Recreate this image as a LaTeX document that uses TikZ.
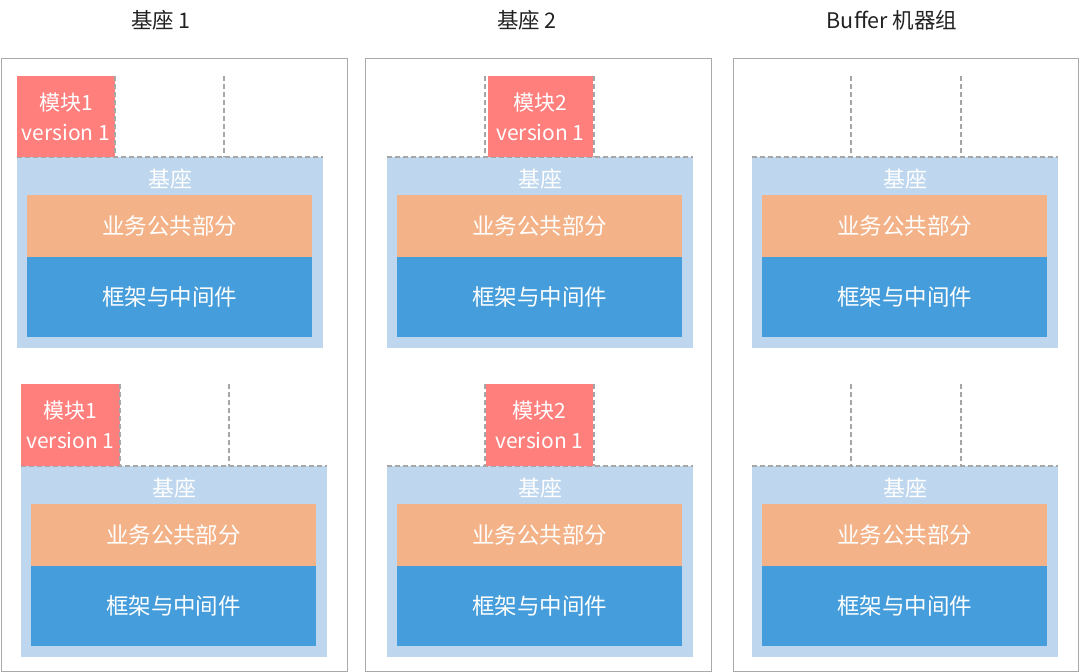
\documentclass[tikz,border=0pt]{standalone}
\usepackage{fontspec}
\setmainfont{Noto Sans CJK SC}
\usepackage{xcolor}
\usetikzlibrary{positioning,calc}
\definecolor{framegray}{HTML}{AAAAAA}
\definecolor{guidegray}{HTML}{A6A6A6}
\definecolor{titleink}{HTML}{222222}
\definecolor{modpink}{HTML}{FF7F7D}
\definecolor{basebg}{HTML}{BED7EE}
\definecolor{bizorange}{HTML}{F3B287}
\definecolor{fwblue}{HTML}{459DDB}

\begin{document}
\begin{tikzpicture}[
  x=1pt,y=-1pt,
  frame/.style={rectangle,draw=framegray,line width=1pt,inner sep=0pt,anchor=north west,minimum width=346pt,minimum height=613pt},
  title/.style={font=\fontsize{21.5}{24}\selectfont,text=titleink,inner sep=0pt},
  base/.style={rectangle,fill=basebg,inner sep=0pt,outer sep=0pt,anchor=north west,minimum width=306pt,minimum height=191pt},
  lbl/.style={font=\fontsize{22}{24}\selectfont,text=white,inner sep=0pt},
  biz/.style={rectangle,fill=bizorange,text=white,font=\fontsize{22.5}{24}\selectfont,inner sep=0pt,outer sep=0pt,anchor=north west,minimum width=285pt,minimum height=62pt},
  fw/.style={rectangle,fill=fwblue,text=white,font=\fontsize{22.5}{24}\selectfont,inner sep=0pt,outer sep=0pt,anchor=north west,minimum width=285pt,minimum height=80pt},
  mod/.style={rectangle,fill=modpink,text=white,align=center,font=\fontsize{21}{30}\selectfont,inner sep=0pt,outer sep=0pt,anchor=north west,minimum height=81pt},
  guide/.style={draw=guidegray,line width=1.1pt,dash pattern=on 5pt off 3pt}
]
\useasboundingbox (0,0) rectangle (1080,672);
% machine groups
\node[frame] (col1) at (1,58) {};
\node[frame] (col2) at (365,58) {};
\node[frame,minimum width=345pt] (col3) at (733,58) {};
\node[title] (t1) at (161,20) {基座 1};
\node[title] (t2) at (527,20) {基座 2};
\node[title] (t3) at (892,20) {Buffer 机器组};
% base stacks
\foreach \n/\x/\y in {a/17/157,b/21/466,c/387/157,d/387/466,e/752/157,f/752/466}{
  \node[base] (base\n) at (\x,\y) {};
  \node[lbl] (lbl\n) at ($(base\n.north)+(0,22)$) {基座};
  \node[biz] (biz\n) at ($(base\n.north west)+(10,38)$) {业务公共部分};
  \node[fw] (fw\n) at (biz\n.south west) {框架与中间件};
  \draw[guide] (base\n.north west) -- (base\n.north east);
}
% modules
\node[mod,minimum width=98pt] (moda) at (17,76) {模块1\\version 1};
\node[mod,minimum width=99pt,minimum height=82pt] (modb) at (21,384) {模块1\\version 1};
\node[mod,minimum width=105pt] (modc) at (488,76) {模块2\\version 1};
\node[mod,minimum width=107pt,minimum height=82pt] (modd) at (486,384) {模块2\\version 1};
% slot guides
\coordinate (sa1) at (224,76);
\coordinate (sb1) at (229,384);
\coordinate (sc1) at (485,76);
\coordinate (sc2) at (594,76);
\coordinate (sd1) at (485,384);
\coordinate (sd2) at (594,384);
\coordinate (se1) at (851,76);
\coordinate (se2) at (961,76);
\coordinate (sf1) at (851,384);
\coordinate (sf2) at (961,384);
\draw[guide] (moda.north east) -- (moda.south east);
\draw[guide] (modb.north east) -- (modb.south east);
\draw[guide] (sa1) -- (sa1 |- basea.north);
\draw[guide] (sb1) -- (sb1 |- baseb.north);
\draw[guide] (sc1) -- (sc1 |- basec.north);
\draw[guide] (sc2) -- (sc2 |- basec.north);
\draw[guide] (sd1) -- (sd1 |- based.north);
\draw[guide] (sd2) -- (sd2 |- based.north);
\draw[guide] (se1) -- (se1 |- basee.north);
\draw[guide] (se2) -- (se2 |- basee.north);
\draw[guide] (sf1) -- (sf1 |- basef.north);
\draw[guide] (sf2) -- (sf2 |- basef.north);
\end{tikzpicture}
\end{document}
